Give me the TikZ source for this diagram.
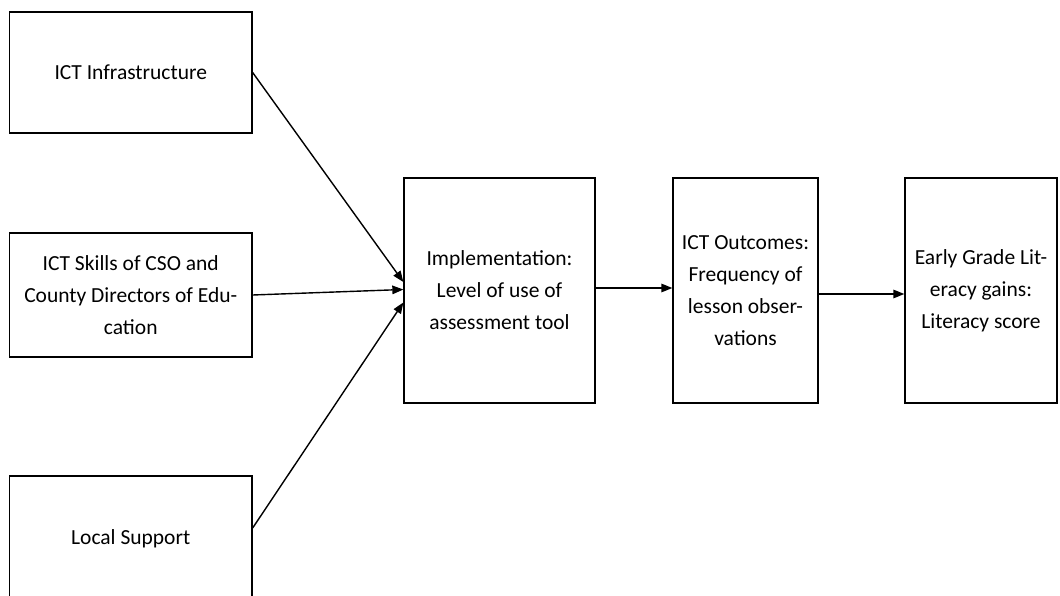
\documentclass[tikz,border=0pt]{standalone}
\usepackage{fontspec}
\setmainfont{Carlito}
\usetikzlibrary{arrows.meta}
\begin{document}
\begin{tikzpicture}[x=1pt,y=-1pt,
  box/.style={draw=black,line width=1.3pt,inner sep=0pt,align=center,
    font=\fontsize{21.5}{32}\selectfont},
  conn/.style={line width=1.4pt,-{Triangle[length=11pt,width=8.5pt]}}]
\clip (0,0) rectangle (1060,596);
\useasboundingbox (0,0) rectangle (1060,596);
\node[box,minimum width=242.5pt,minimum height=121pt] (b1) at (130.75,72.5) {ICT Infrastructure};
\node[box,minimum width=242.5pt,minimum height=124pt] (b2) at (130.75,295) {ICT Skills of CSO and\\County Directors of Edu-\\cation};
\node[box,minimum width=242.5pt,minimum height=126pt] (b3) at (130.75,539) {Local Support};
\node[box,minimum width=191pt,minimum height=225pt] (b4) at (499.5,290.5) {Implementation:\\Level of use of\\assessment tool};
\node[box,minimum width=145pt,minimum height=225pt] (b5) at (745.5,290.5) {ICT Outcomes:\\Frequency of\\lesson obser-\\vations};
\node[box,minimum width=152pt,minimum height=225pt] (b6) at (981,290.5) {Early Grade Lit-\\eracy gains:\\Literacy score};
\draw[conn] (b1.east) -- ([yshift=8.5pt]b4.west);
\draw[conn] (b2.east) -- ([yshift=1pt]b4.west);
\draw[conn] ([yshift=11pt]b3.east) -- ([yshift=-12pt]b4.west);
\draw[conn] ([yshift=2.5pt]b4.east) -- ([yshift=2.5pt]b5.west);
\draw[conn] ([yshift=-3.5pt]b5.east) -- ([yshift=-3.5pt]b6.west);
\end{tikzpicture}
\end{document}
